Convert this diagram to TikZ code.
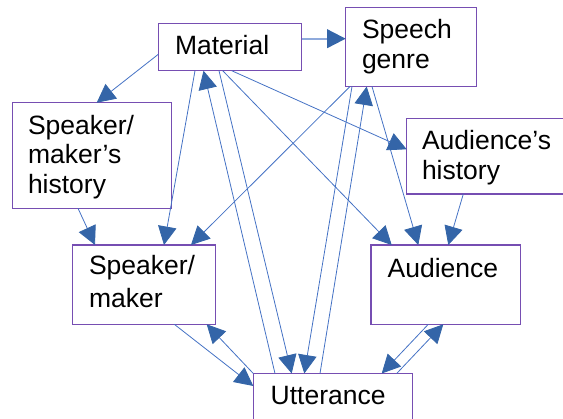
\documentclass[tikz,border=0pt]{standalone}
\usepackage{fontspec}
\setmainfont{Liberation Sans}
\usetikzlibrary{arrows.meta}
\definecolor{boxcol}{RGB}{118,78,178}
\definecolor{linecol}{RGB}{68,114,196}
\definecolor{headcol}{RGB}{52,101,168}
\definecolor{lightline}{RGB}{143,170,220}
\tikzset{
  box/.style={draw=boxcol, line width=1.1pt, rectangle, inner sep=0pt, outer sep=0pt, anchor=north west},
  lbl/.style={inner sep=0pt, outer sep=0pt, anchor=base west, align=left},
  conn/.style={draw=linecol, line width=0.8pt, -{Triangle[length=18.5pt,width=18.5pt,color=headcol]}},
  thickconn/.style={conn, draw=lightline, line width=2pt}
}
\begin{document}
\begin{tikzpicture}[x=1pt,y=-1pt]
\useasboundingbox (0,0) rectangle (563,419);
\clip (0,0) rectangle (563,419);
% boxes
\node[box, minimum width=143.4pt, minimum height=47.4pt] (mat) at (158.3,23.3) {};
\node[box, minimum width=131pt, minimum height=79.2pt] (gen) at (345.7,7.3) {};
\node[box, minimum width=159pt, minimum height=105.6pt] (smh) at (12.3,102.7) {};
\node[box, minimum width=170pt, minimum height=75.7pt] (ah) at (406.7,118.3) {};
\node[box, minimum width=143.4pt, minimum height=79.3pt] (sm) at (72.3,245) {};
\node[box, minimum width=149.7pt, minimum height=79.3pt] (aud) at (371,245) {};
\node[box, minimum width=159pt, minimum height=70pt] (utt) at (253.3,373.5) {};
% texts (anchor = baseline of the last line)
\node[lbl, font=\fontsize{26.5}{29.5}\selectfont] (matT) at (175,54.3) {Material};
\node[lbl, font=\fontsize{26.5}{30}\selectfont] (genT) at (362,69) {Speech\\genre};
\node[lbl, font=\fontsize{26.5}{29.5}\selectfont] (smhT) at (28,193.3) {Speaker/\\maker’s\\history};
\node[lbl, font=\fontsize{26.5}{30}\selectfont] (ahT) at (422,180) {Audience’s\\history};
\node[lbl, font=\fontsize{26.5}{33}\selectfont] (smT) at (89,307.3) {Speaker/\\maker};
\node[lbl, font=\fontsize{26.5}{29.5}\selectfont] (audT) at (387.7,277.7) {Audience};
\node[lbl, font=\fontsize{26.5}{29.5}\selectfont] (uttT) at (270.7,405) {Utterance};
% connectors
\draw[thickconn] ([yshift=-15.4pt]mat.north east) -- ([yshift=-31.4pt]gen.north west);
\draw[conn] ([yshift=-31pt]mat.north west) -- ([xshift=84.4pt]smh.north west);
\draw[conn] ([xshift=65.7pt]smh.south west) -- ([xshift=22.7pt]sm.north west);
\draw[conn] ([xshift=36.7pt]mat.south west) -- ([xshift=91.7pt]sm.north west);
\draw[conn] ([xshift=4.3pt]gen.south west) -- ([xshift=118.7pt]sm.north west);
\draw[conn] ([xshift=21.7pt]utt.north west) -- ([xshift=45.2pt]mat.south west);
\draw[conn] ([xshift=60.7pt]mat.south west) -- ([xshift=38.4pt]utt.north west);
\draw[conn] ([xshift=6.3pt]gen.south west) -- ([xshift=51pt]utt.north west);
\draw[conn] ([xshift=66.7pt]utt.north west) -- ([xshift=21pt]gen.south west);
\draw[conn] ([xshift=26.3pt]gen.south west) -- ([xshift=47.3pt]aud.north west);
\draw[conn] ([xshift=64.4pt]mat.south west) -- ([xshift=20.7pt]aud.north west);
\draw[conn] ([xshift=73.4pt]mat.south west) -- ([yshift=-31pt]ah.north west);
\draw[conn] ([xshift=56.6pt]ah.south west) -- ([xshift=77.3pt]aud.north west);
\draw[conn] ([xshift=102pt]sm.south west) -- ([yshift=-12.5pt]utt.north west);
\draw[conn] (utt.north west) -- ([xshift=134.4pt]sm.south west);
\draw[conn] ([xshift=57.3pt]aud.south west) -- ([xshift=128.4pt]utt.north west);
\draw[conn] ([xshift=143.4pt]utt.north west) -- ([xshift=72.3pt]aud.south west);
\end{tikzpicture}
\end{document}
